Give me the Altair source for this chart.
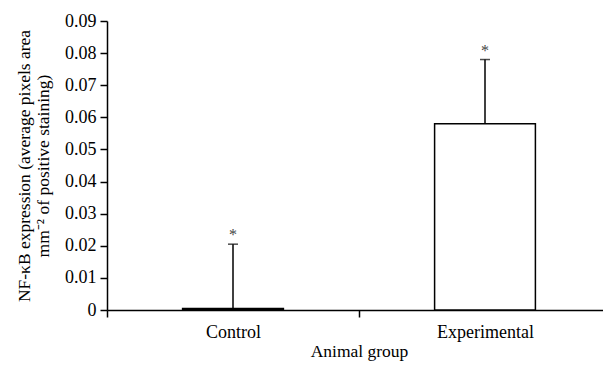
import altair as alt
import pandas as pd

groups = ["Control", "Experimental"]
means = [0.0005, 0.058]
errors = [0.0200, 0.020]

df = pd.DataFrame({
    "group": groups,
    "mean": means,
    "top": [m + e for m, e in zip(means, errors)],
    "star": ["*", "*"],
})

FONT = "Liberation Serif"
YTITLE = ["NF-\u03baB expression (average pixels area", "mm\u207b\u00b2 of positive staining)"]

common = dict(labelFont=FONT, titleFont=FONT, labelFontSize=18, titleFontSize=17.5,
              labelColor="black", titleColor="black", titleFontWeight="normal",
              domainColor="black", tickColor="black", domainWidth=1.5, tickWidth=1.5, tickSize=7,
              grid=False)
xaxis = alt.Axis(labelAngle=0, tickBand="extent", labelPadding=6, titlePadding=1, **common)
yaxis = alt.Axis(values=[i / 100 for i in range(10)], format=".2f",
                 labelExpr="datum.value == 0 ? '0' : datum.label", titlePadding=12,
                 labelPadding=4, **common)

x = alt.X("group:N", sort=groups, title="Animal group",
          scale=alt.Scale(paddingInner=0, paddingOuter=0, range=[0, 504]), axis=xaxis)
yscale = alt.Scale(domain=[0, 0.09], nice=False)

base = alt.Chart(df)
bars = base.mark_bar(fill="white", stroke="black", strokeWidth=1.5, width={"band": 0.4}).encode(
    x=x, y=alt.Y("mean:Q", title=YTITLE, scale=yscale, axis=yaxis))
rules = base.mark_rule(color="black", strokeWidth=1.5).encode(
    x=x, y=alt.Y("mean:Q", title=YTITLE, scale=yscale, axis=yaxis), y2="top:Q")
caps = base.mark_tick(color="black", size=10, thickness=1.5).encode(
    x=x, y=alt.Y("top:Q", title=YTITLE, scale=yscale, axis=yaxis))
stars = base.mark_text(dy=-9, fontSize=16, font=FONT, color="#444444").encode(
    x=x, y=alt.Y("top:Q", title=YTITLE, scale=yscale, axis=yaxis), text="star:N")

chart = alt.layer(bars, rules, caps, stars).properties(
    width=496, height=289,
    autosize=alt.AutoSizeParams(type="none"),
    padding={"left": 99, "top": 13, "right": 0, "bottom": 53},
).configure_view(stroke=None)

chart.save("out.html", embed_options={"renderer": "svg", "actions": False})
